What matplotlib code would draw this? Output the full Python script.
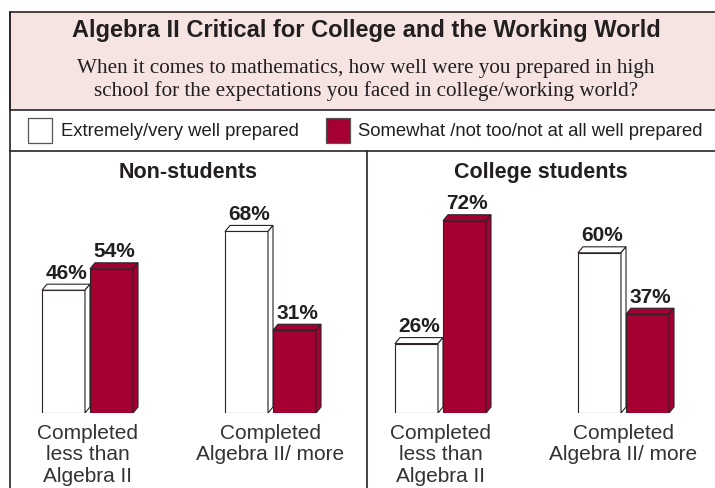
import matplotlib.pyplot as plt
from matplotlib.patches import Polygon, Rectangle

# data
panels = ['Non-students', 'College students']
groups = ['Completed\nless than\nAlgebra II', 'Completed\nAlgebra II/ more']
well_prepared = [[46, 68], [26, 60]]
not_prepared = [[54, 31], [72, 37]]
legend_labels = ['Extremely/very well prepared', 'Somewhat /not too/not at all well prepared']

title = 'Algebra II Critical for College and the Working World'
subtitle = ('When it comes to mathematics, how well were you prepared in high\n'
            'school for the expectations you faced in college/working world?')

RED = '#a50032'
EDGE = '#2b2326'
TXT = '#231f20'
PINK = '#f5e4e2'
W, H = 715, 488

plt.rcParams['font.family'] = ['Liberation Sans', 'DejaVu Sans']

fig = plt.figure(figsize=(W / 100, H / 100), dpi=100)

# background frame, drawn in pixel coordinates
bg = fig.add_axes([0, 0, 1, 1])
bg.set_xlim(0, W)
bg.set_ylim(H, 0)
bg.axis('off')
bg.add_patch(Rectangle((10, 12), W, 98, facecolor=PINK, edgecolor=EDGE, lw=1.2))
bg.plot([10, W], [151, 151], color=EDGE, lw=1.2)
bg.plot([10, 10], [12, H], color=EDGE, lw=1.2)
bg.plot([367, 367], [151, H], color=EDGE, lw=1.2)

bg.text(366, 31, title, ha='center', va='center', fontsize=17, fontweight='bold', color=TXT)
bg.text(366, 80, subtitle, ha='center', va='center', fontsize=15.2, color=TXT,
        family=['Liberation Serif'], linespacing=1.15)

# legend row
bg.add_patch(Rectangle((28, 118), 24, 25, facecolor='white', edgecolor='#555555', lw=0.9))
bg.text(61, 131, legend_labels[0], ha='left', va='center', fontsize=13.3, color=TXT)
bg.add_patch(Rectangle((326, 118), 24, 25, facecolor=RED, edgecolor='#555555', lw=0.9))
bg.text(358, 131, legend_labels[1], ha='left', va='center', fontsize=13.3, color=TXT)

# bar panels
px_per_unit = 2.67        # pixels per percentage point
px_per_group = 183.0      # pixels between group centres
bar_w = 43 / px_per_group
off = 24 / px_per_group
dx = 5 / px_per_group
dy = 6 / px_per_unit

panel_px = [(10, 367, 87.5), (367, W, 440.5)]   # left, right, first group centre
top_px, base_px = 151, 413

for p, (left, right, c0) in enumerate(panel_px):
    ax = fig.add_axes([left / W, (H - base_px) / H, (right - left) / W, (base_px - top_px) / H])
    ax.set_xlim((left - c0) / px_per_group, (right - c0) / px_per_group)
    ax.set_ylim(0, (base_px - top_px) / px_per_unit)
    ax.axis('off')

    ax.text(((left + right) / 2 - c0) / px_per_group, (base_px - 172) / px_per_unit, panels[p],
            ha='center', va='center', fontsize=15.5, fontweight='bold', color=TXT)

    for g in range(len(groups)):
        for vals, col, sgn in ((well_prepared, 'white', -1), (not_prepared, RED, 1)):
            v = vals[p][g]
            xc = g + sgn * off
            x0, x1 = xc - bar_w / 2, xc + bar_w / 2
            ax.bar(xc, v, bar_w, color=col, edgecolor=EDGE, lw=0.8, zorder=2)
            ax.add_patch(Polygon([(x0, v), (x1, v), (x1 + dx, v + dy), (x0 + dx, v + dy)],
                                 closed=True, facecolor=col, edgecolor=EDGE, lw=0.8, zorder=2))
            ax.add_patch(Polygon([(x1, 0), (x1, v), (x1 + dx, v + dy), (x1 + dx, dy)],
                                 closed=True, facecolor=col, edgecolor=EDGE, lw=0.8, zorder=2))
            ax.text(xc + dx / 2, v + dy + 2.0, f'{v}%', ha='center', va='baseline',
                    fontsize=15, fontweight='bold', color=TXT)

        ax.text(g, -4.0, groups[g], ha='center', va='top', fontsize=15, color='#333333',
                linespacing=1.17, clip_on=False)

fig.savefig('out.png', dpi=100)
